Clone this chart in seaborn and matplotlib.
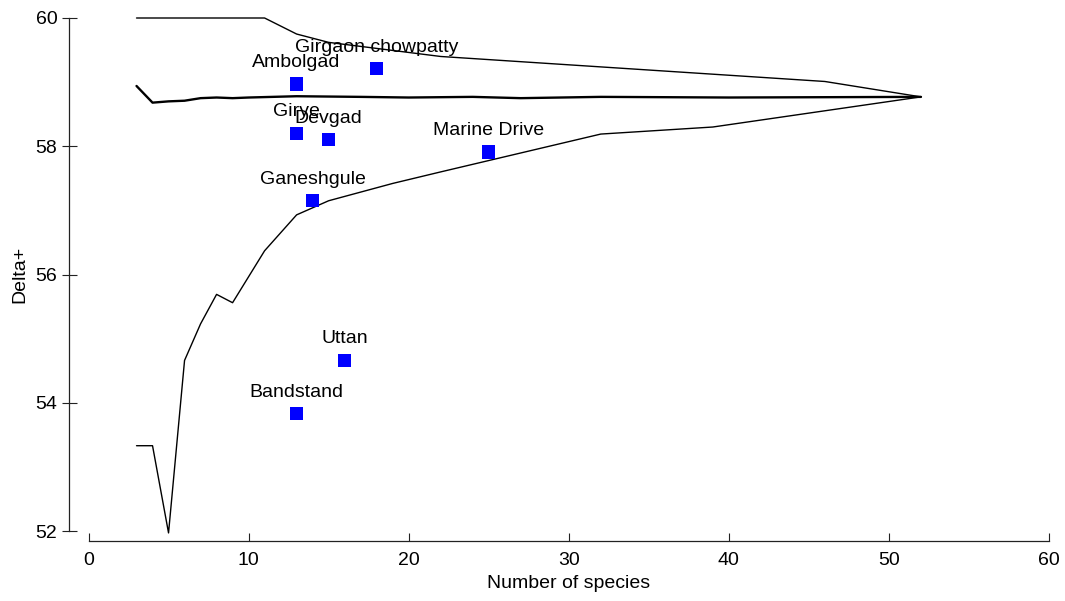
import matplotlib
matplotlib.use("Agg")
import matplotlib.pyplot as plt
import seaborn as sns
import pandas as pd

# ---- data ----
sites = ["Ambolgad", "Girgaon chowpatty", "Girye", "Devgad", "Marine Drive",
         "Ganeshgule", "Uttan", "Bandstand"]
site_species = [13, 18, 13, 15, 25, 14, 16, 13]
site_delta = [58.97, 59.21, 58.20, 58.10, 57.91, 57.15, 54.66, 53.83]

upper_x = [3, 11, 13, 15, 22, 46, 52]
upper_y = [60.0, 60.0, 59.75, 59.62, 59.40, 59.01, 58.77]

mean_x = [3, 4, 5, 6, 7, 8, 9, 10, 13, 17, 20, 24, 27, 32, 40, 52]
mean_y = [58.94, 58.68, 58.70, 58.71, 58.75, 58.76, 58.75, 58.76, 58.78,
          58.77, 58.76, 58.77, 58.75, 58.77, 58.76, 58.77]

lower_x = [3, 4, 5, 6, 7, 8, 9, 11, 13, 15, 19, 22, 32, 39, 52]
lower_y = [53.33, 53.33, 51.97, 54.66, 55.23, 55.69, 55.56, 56.37, 56.93,
           57.15, 57.42, 57.60, 58.19, 58.30, 58.77]

x_ticks = [0, 10, 20, 30, 40, 50, 60]
y_ticks = [52, 54, 56, 58, 60]

# ---- style ----
sns.set_style("ticks")
plt.rcParams["font.family"] = ["Liberation Sans", "DejaVu Sans"]
plt.rcParams["font.size"] = 14

fig = plt.figure(figsize=(10.65, 6.01), dpi=100)
W, H = 1065, 601
ax = fig.add_axes([88.5 / W, (H - 531) / H, (1049 - 88.5) / W, (531 - 18) / H])

pts = pd.DataFrame({"site": sites, "S": site_species, "delta": site_delta})
up = pd.DataFrame({"S": upper_x, "delta": upper_y})
mn = pd.DataFrame({"S": mean_x, "delta": mean_y})
lo = pd.DataFrame({"S": lower_x, "delta": lower_y})

for df, lw in [(up, 1.0), (mn, 1.7), (lo, 1.0)]:
    sns.lineplot(data=df, x="S", y="delta", ax=ax, color="black", lw=lw,
                 sort=False, estimator=None, clip_on=False)

sns.scatterplot(data=pts, x="S", y="delta", ax=ax, marker="s", s=92,
                color="#0000FF", edgecolor="none", linewidth=0, zorder=5,
                clip_on=False)

for name, xs, ys in zip(sites, site_species, site_delta):
    ax.annotate(name, (xs, ys), xytext=(0, 15.5), textcoords="offset points",
                ha="center", va="center", fontsize=14, color="black")

ax.set_xlim(0, 60)
ax.set_ylim(52, 60)
ax.set_xticks(x_ticks)
ax.set_yticks(y_ticks)
ax.set_xlabel("Number of species", fontsize=14, labelpad=4, color="black")
ax.set_ylabel("Delta+", fontsize=14, labelpad=5, color="black")

sns.despine(ax=ax, offset=dict(left=14, bottom=7.2))
for s in ["left", "bottom"]:
    ax.spines[s].set_linewidth(0.9)
    ax.spines[s].set_color("#222222")
ax.tick_params(axis="x", direction="in", length=5.8, width=0.8, pad=8,
               labelsize=14, color="#222222", labelcolor="black")
ax.tick_params(axis="y", direction="inout", length=10.8, width=0.8, pad=3,
               labelsize=14, color="#222222", labelcolor="black")

fig.savefig("out.png", dpi=100)
